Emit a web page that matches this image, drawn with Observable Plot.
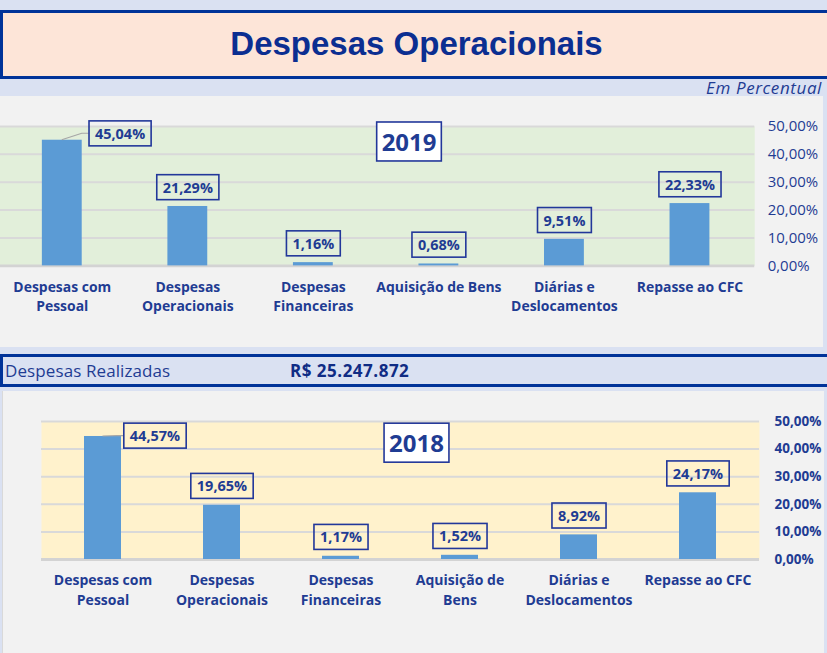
<!DOCTYPE html>
<html><head><meta charset="utf-8">
<script src="https://cdn.jsdelivr.net/npm/d3@7"></script>
<script src="https://cdn.jsdelivr.net/npm/@observablehq/plot@0.6"></script>
<style>
html,body{margin:0;padding:0}
body{width:827px;height:653px;overflow:hidden;background:#dae1f2;position:relative;font-family:"Open Sans",sans-serif}
.abs{position:absolute}
#titlebox{left:0;top:10px;width:840px;height:63px;border:3px solid #003399;background:#fde5d8}
#title{left:0;top:27px;width:833px;text-align:center;font:bold 33px/33px "Liberation Sans",Arial,sans-serif;color:#0b2e91;white-space:nowrap}
#unit{right:5px;top:79px;font:italic 17px/17px "Open Sans",sans-serif;letter-spacing:0.6px;color:#1f3c93;white-space:nowrap}
#panel1{left:0;top:96px;width:823px;height:251px;background:#f2f2f2}
#strip{left:0;top:354px;width:840px;height:27px;border:3px solid #003399;background:#dae1f2}
#lbl{left:5px;top:362px;font:17px/17px "Open Sans",sans-serif;letter-spacing:0.1px;color:#1f3c93;white-space:nowrap}
#val{left:290px;top:362px;font:bold 17px/17px "Open Sans",sans-serif;letter-spacing:0.5px;color:#102c85;white-space:nowrap}
#panel2{left:2px;top:391px;width:821px;height:262px;background:#f2f2f2;border-left:1px solid #d9d9d9}
</style></head>
<body>
<div id="titlebox" class="abs"></div>
<div id="title" class="abs">Despesas Operacionais</div>
<div id="unit" class="abs">Em Percentual</div>
<div id="panel1" class="abs"></div>
<div id="strip" class="abs"></div>
<div id="lbl" class="abs">Despesas Realizadas</div>
<div id="val" class="abs">R$ 25.247.872</div>
<div id="panel2" class="abs"></div>
<script>
const categories = ["Pessoal","Operacionais","Financeiras","Bens","Diarias","CFC"];
const labels2019 = ["Despesas com\nPessoal","Despesas\nOperacionais","Despesas\nFinanceiras","Aquisição de Bens","Diárias e\nDeslocamentos","Repasse ao CFC"];
const labels2018 = ["Despesas com\nPessoal","Despesas\nOperacionais","Despesas\nFinanceiras","Aquisição de\nBens","Diárias e\nDeslocamentos","Repasse ao CFC"];
const values2019 = [45.04, 21.29, 1.16, 0.68, 9.51, 22.33];
const values2018 = [44.57, 19.65, 1.17, 1.52, 8.92, 24.17];
const yTicks = [0, 10, 20, 30, 40, 50];
const years = ["2019", "2018"];

const fmtPct = d => d.toFixed(2).replace(".", ",") + "%";
const NAVY = "#1f3c93";
const ns = "http://www.w3.org/2000/svg";
const FONT = "'Open Sans', sans-serif";

function chart(cfg) {
  const data = categories.map((c, i) => ({cat: c, value: cfg.values[i]}));
  const tickLabel = new Map(categories.map((c, i) => [c, cfg.labels[i]]));
  const fig = Plot.plot({
    width: cfg.width, height: cfg.height,
    marginTop: cfg.mt, marginRight: cfg.mr, marginBottom: cfg.mb, marginLeft: cfg.ml,
    style: {fontFamily: FONT, background: "transparent", overflow: "visible", color: NAVY},
    x: {domain: categories, paddingInner: cfg.pad, paddingOuter: cfg.pad / 2},
    y: {domain: [0, 50]},
    marks: [
      Plot.frame({fill: cfg.bg, stroke: "none"}),
      Plot.gridY(yTicks.slice(1), {stroke: "#d9d9d9", strokeOpacity: 1, strokeWidth: 2}),
      Plot.ruleY([0], {stroke: "#d3d3d3", strokeWidth: 3}),
      Plot.barY(data, {x: "cat", y: "value", fill: "#5b9bd5"}),
      Plot.axisY(yTicks, {anchor: "right", tickSize: 0, tickPadding: cfg.yPad, tickFormat: fmtPct, label: null,
        fontSize: cfg.yFont, fontWeight: cfg.yBold ? "bold" : "normal"}),
      Plot.axisX({anchor: "bottom", tickSize: 0, tickPadding: 12, tickFormat: d => tickLabel.get(d), label: null,
        fontSize: 14, fontWeight: "bold", lineHeight: 1.4}),
      Plot.text(data.slice(1), {x: "cat", y: "value", text: d => fmtPct(d.value), dy: -18.5,
        fontSize: 14.5, fontWeight: "bold", fill: NAVY}),
      Plot.text(data.slice(0, 1), {x: "cat", y: "value", text: d => fmtPct(d.value), dx: cfg.firstDx, dy: cfg.firstDy,
        fontSize: 14.5, fontWeight: "bold", fill: NAVY}),
      Plot.text([cfg.year], {frameAnchor: "top", lineAnchor: "middle", text: d => d, dx: cfg.yearDx, dy: cfg.yearDy,
        fontSize: 24, fontWeight: "bold", fill: NAVY})
    ]
  });
  fig.style.position = "absolute";
  fig.style.left = cfg.left + "px";
  fig.style.top = cfg.top + "px";
  document.body.appendChild(fig);

  const [gRest, gFirst, gYear] = fig.querySelectorAll('g[aria-label="text"]');

  // boxes around labels
  const sr = fig.getBoundingClientRect();
  [gRest, gFirst, gYear].forEach(g => {
    const isYear = g === gYear;
    g.querySelectorAll("text").forEach(t => {
      const b = t.getBBox();
      const px = isYear ? 5 : 6, py = isYear ? 3 : 3;
      const r = document.createElementNS(ns, "rect");
      r.setAttribute("x", b.x - px);
      r.setAttribute("y", b.y - py);
      r.setAttribute("width", b.width + 2 * px);
      r.setAttribute("height", b.height + 2 * py);
      r.setAttribute("fill", isYear ? "#ffffff" : "none");
      r.setAttribute("stroke", "#22379a");
      r.setAttribute("stroke-width", 1.6);
      if (t.getAttribute("transform")) r.setAttribute("transform", t.getAttribute("transform"));
      t.parentNode.insertBefore(r, t);
    });
  });

  // leader line for the first label
  const xs = fig.scale("x"), ys = fig.scale("y");
  const cx = xs.apply(data[0].cat) + xs.bandwidth / 2;
  const cy = ys.apply(data[0].value);
  const fr = gFirst.querySelector("rect").getBoundingClientRect();
  const bl = fr.left - sr.left, bc = fr.top - sr.top + fr.height / 2;
  const p = document.createElementNS(ns, "path");
  p.setAttribute("d", `M${cx},${cy}L${bl - 7},${bc}L${bl},${bc}`);
  p.setAttribute("fill", "none");
  p.setAttribute("stroke", "#a6a6a6");
  p.setAttribute("stroke-width", 1.2);
  gRest.parentNode.insertBefore(p, gRest);
}

chart({values: values2019, labels: labels2019, year: years[0], bg: "#e2efda",
  left: -3, top: 96, width: 830, height: 230, mt: 30, mr: 70, mb: 60, ml: 0, pad: 0.684,
  yPad: 13, yBold: false, yFont: 15, firstDx: 58, firstDy: -6, yearDx: 33, yearDy: 17});
chart({values: values2018, labels: labels2018, year: years[1], bg: "#fff2cc",
  left: 0, top: 391, width: 827, height: 262, mt: 30, mr: 68, mb: 94, ml: 41, pad: 0.69,
  yPad: 15, yBold: true, yFont: 13.5, firstDx: 52, firstDy: 0, yearDx: 16, yearDy: 23});
</script>
</body></html>
